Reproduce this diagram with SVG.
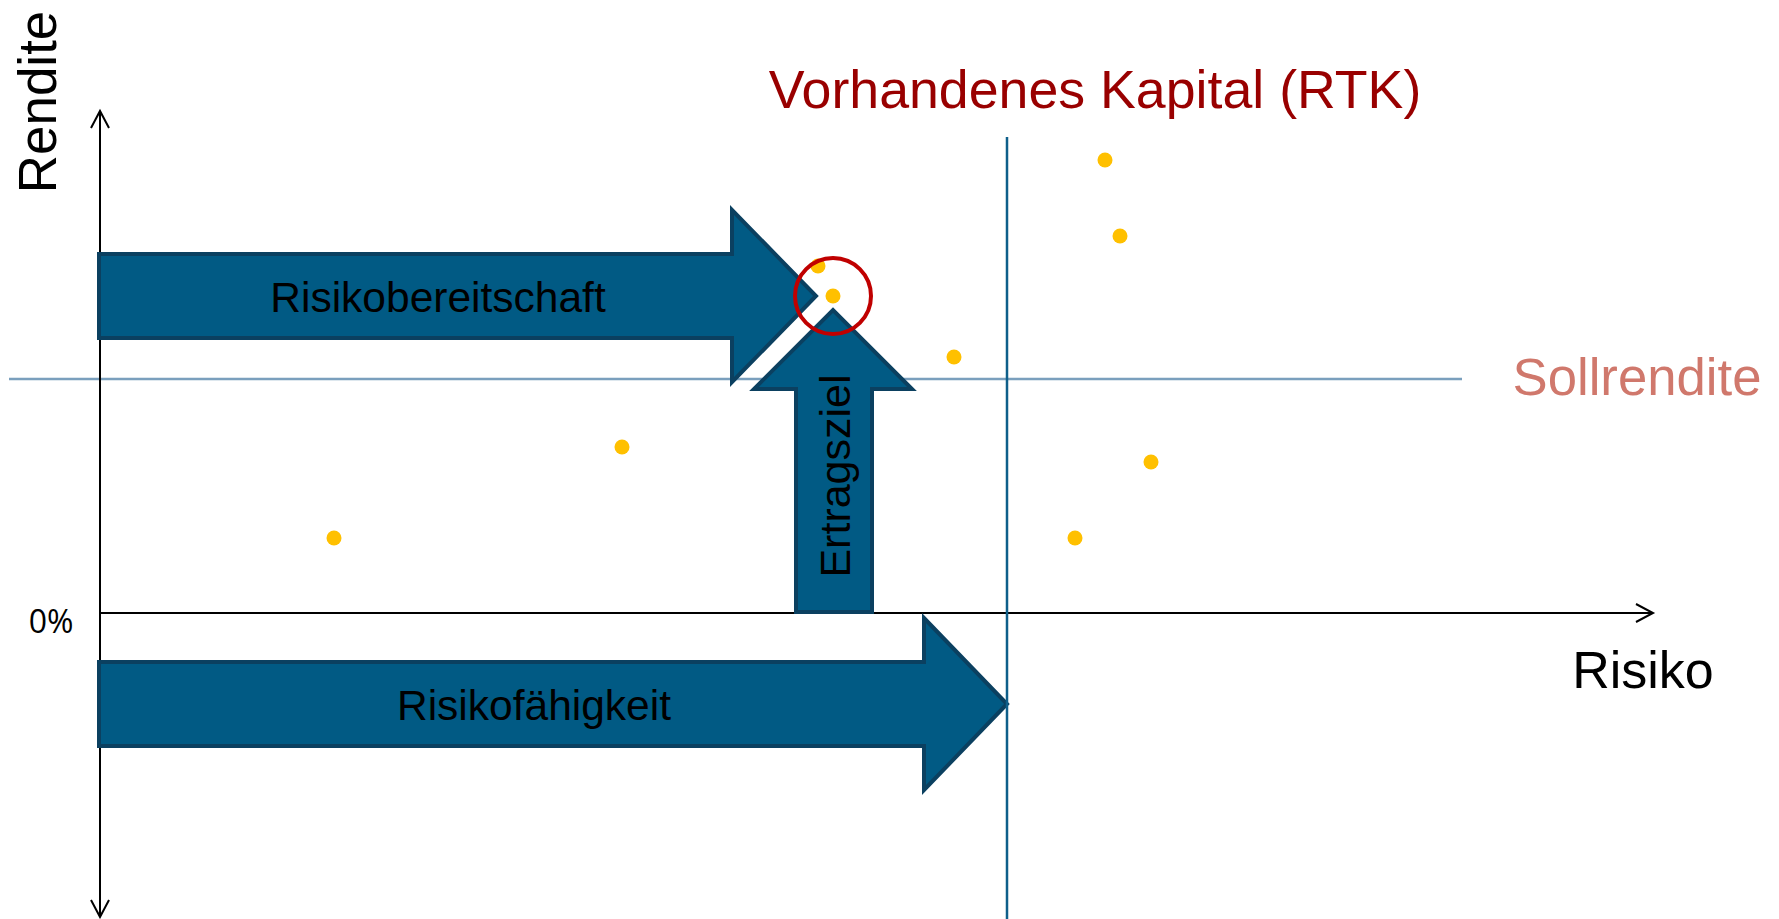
<svg xmlns="http://www.w3.org/2000/svg" width="1779" height="919" viewBox="0 0 1779 919">
<defs>
<style>
.ax{stroke:#000;stroke-width:2;fill:none}
.blk{fill:#015a84;stroke:#0b4060;stroke-width:4;stroke-linejoin:miter}
.lbl{font-family:"Liberation Sans",Arial,sans-serif;fill:#000}
.dot{fill:#ffc000}
</style>
</defs>
<rect width="1779" height="919" fill="#fff"/>
<g id="guides">
<line x1="9" y1="379" x2="1462" y2="379" stroke="#7a9fbd" stroke-width="2.5"/>
</g>
<g id="axes">
<line class="ax" x1="100" y1="111" x2="100" y2="917"/>
<polyline class="ax" points="91,128 100,111 109,128"/>
<polyline class="ax" points="91,900 100,917 109,900"/>
<line class="ax" x1="100" y1="613" x2="1653" y2="613"/>
<polyline class="ax" points="1636,604 1653,613 1636,622"/>
</g>
<g id="dots">
<circle class="dot" cx="334" cy="538" r="7.5"/>
<circle class="dot" cx="622" cy="447" r="7.5"/>
<circle class="dot" cx="954" cy="357" r="7.5"/>
<circle class="dot" cx="1105" cy="160" r="7.5"/>
<circle class="dot" cx="1120" cy="236" r="7.5"/>
<circle class="dot" cx="1151" cy="462" r="7.5"/>
<circle class="dot" cx="1075" cy="538" r="7.5"/>
<circle class="dot" cx="818" cy="266" r="7.5"/>
<circle class="dot" cx="833" cy="296" r="7.5"/>
</g>
<g id="risikobereitschaft">
<polygon class="blk" points="99,254 732,254 732,210 816,296 732,382 732,338 99,338"/>
<text class="lbl" x="438" y="312" font-size="42.5" text-anchor="middle">Risikobereitschaft</text>
</g>
<g id="risikofaehigkeit">
<polygon class="blk" points="99,662 924,662 924,618 1007,704 924,790 924,746 99,746"/>
<text class="lbl" x="534" y="720" font-size="42.5" text-anchor="middle">Risikofähigkeit</text>
</g>
<g id="ertragsziel">
<polygon class="blk" points="796,612 796,389 754,389 833,310 912,389 872,389 872,612"/>
<text class="lbl" transform="translate(850,476) rotate(-90)" font-size="43" text-anchor="middle">Ertragsziel</text>
</g>
<g id="rtk">
<line x1="1007" y1="137" x2="1007" y2="919" stroke="#0f5f8a" stroke-width="2.5"/>
<text x="1095" y="108" font-family="'Liberation Sans',Arial,sans-serif" font-size="53.7" fill="#990000" text-anchor="middle">Vorhandenes Kapital (RTK)</text>
</g>
<g id="highlight">
<circle cx="833" cy="296" r="38" fill="none" stroke="#c00000" stroke-width="4"/>
</g>
<g id="labels">
<text class="lbl" transform="translate(56,102) rotate(-90)" font-size="53" text-anchor="middle">Rendite</text>
<text class="lbl" x="1643" y="688" font-size="52" text-anchor="middle">Risiko</text>
<text x="1637" y="395" font-family="'Liberation Sans',Arial,sans-serif" font-size="52.7" fill="#d0786c" text-anchor="middle">Sollrendite</text>
<text x="51" y="633" font-family="'Open Sans','Liberation Sans',sans-serif" font-size="32" fill="#000" text-anchor="middle">0%</text>
</g>
</svg>
